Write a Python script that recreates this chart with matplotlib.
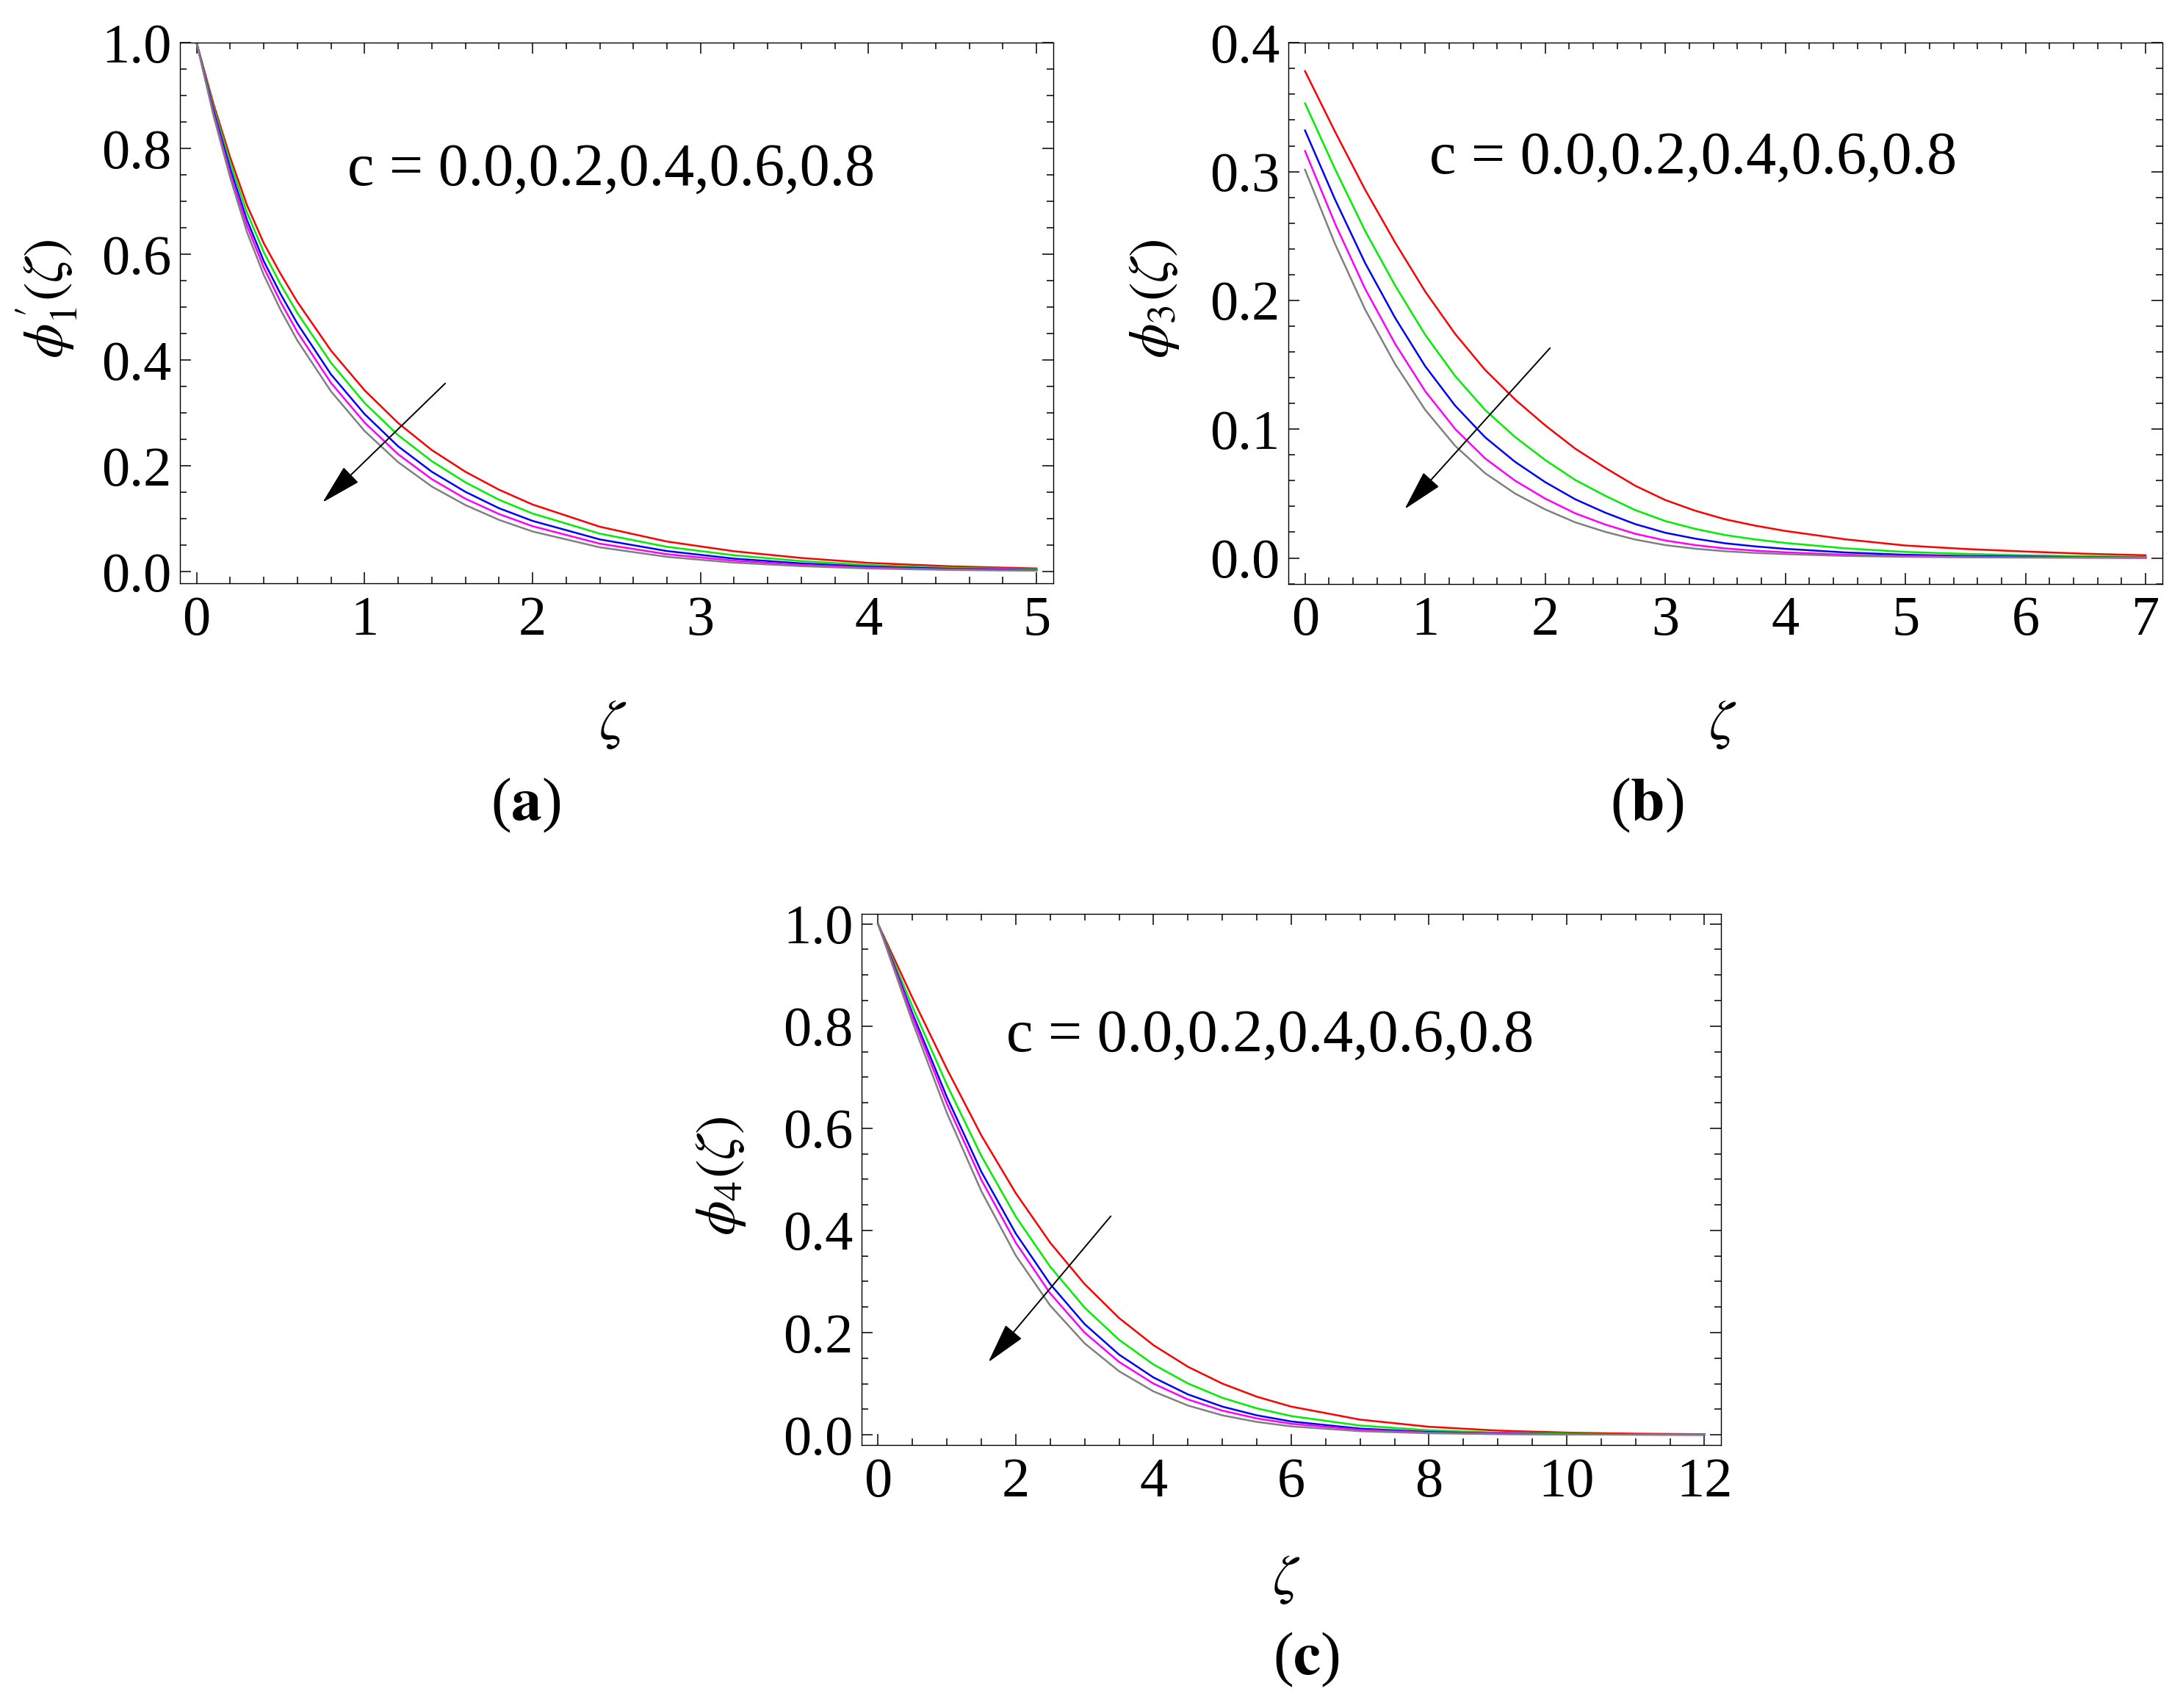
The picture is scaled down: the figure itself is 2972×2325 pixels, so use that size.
"""Profiles of phi1', phi3 and phi4 against zeta for several values of c (three panels)."""
import matplotlib
matplotlib.use('Agg')
import matplotlib.pyplot as plt
from matplotlib.ticker import MultipleLocator, FormatStrFormatter

plt.rcParams['font.family'] = ['Liberation Serif', 'DejaVu Serif']
plt.rcParams['mathtext.fontset'] = 'stix'

# ---- data ----
c_values = [0.0, 0.2, 0.4, 0.6, 0.8]
line_colors = ['#ff0000', '#00ee00', '#0000ff', '#ff00ff', '#808080']

# (a) phi1'(zeta)
zeta_a = [0, 0.1, 0.2, 0.3, 0.4, 0.5, 0.6, 0.8, 1.0, 1.2, 1.4, 1.6, 1.8, 2.0,
          2.4, 2.8, 3.2, 3.6, 4.0, 4.5, 5.0]
phi1_c00 = [1.0, 0.885, 0.783, 0.693, 0.621, 0.563, 0.510, 0.418, 0.343, 0.281, 0.230,
            0.189, 0.155, 0.127, 0.085, 0.057, 0.0386, 0.0259, 0.0166, 0.0100, 0.0061]
phi1_c02 = [1.0, 0.879, 0.773, 0.679, 0.604, 0.543, 0.489, 0.395, 0.319, 0.258, 0.209,
            0.169, 0.136, 0.110, 0.072, 0.047, 0.031, 0.020, 0.0125, 0.0073, 0.0043]
phi1_c04 = [1.0, 0.873, 0.762, 0.665, 0.587, 0.525, 0.469, 0.373, 0.298, 0.237, 0.189,
            0.151, 0.120, 0.096, 0.061, 0.039, 0.0246, 0.0157, 0.0095, 0.0054, 0.0030]
phi1_c06 = [1.0, 0.868, 0.753, 0.654, 0.575, 0.510, 0.453, 0.357, 0.282, 0.222, 0.175,
            0.138, 0.109, 0.086, 0.053, 0.033, 0.0207, 0.0128, 0.0076, 0.0042, 0.0023]
phi1_c08 = [1.0, 0.863, 0.745, 0.642, 0.561, 0.495, 0.437, 0.341, 0.266, 0.207, 0.161,
            0.126, 0.098, 0.076, 0.046, 0.028, 0.017, 0.0104, 0.0060, 0.0032, 0.0017]

# (b) phi3(zeta)
zeta_b = [0, 0.25, 0.5, 0.75, 1.0, 1.25, 1.5, 1.75, 2.0, 2.25, 2.5, 2.75, 3.0, 3.25,
          3.5, 3.75, 4.0, 4.5, 5.0, 5.5, 6.0, 6.5, 7.0]
phi3_c00 = [0.378, 0.331, 0.286, 0.245, 0.207, 0.174, 0.146, 0.123, 0.103, 0.0849, 0.070,
            0.0561, 0.045, 0.0367, 0.030, 0.0251, 0.021, 0.0145, 0.0097, 0.0070, 0.0050,
            0.0033, 0.0021]
phi3_c02 = [0.353, 0.302, 0.254, 0.2116, 0.1734, 0.1413, 0.1149, 0.0939, 0.0761, 0.0606,
            0.0483, 0.0372, 0.0287, 0.0226, 0.0178, 0.0144, 0.0117, 0.0075, 0.0047, 0.0032,
            0.0021, 0.0013, 0.0008]
phi3_c04 = [0.332, 0.2783, 0.2291, 0.1865, 0.1490, 0.1183, 0.0937, 0.0746, 0.0589, 0.0456,
            0.0352, 0.0263, 0.0196, 0.0150, 0.0114, 0.0090, 0.0071, 0.0043, 0.0025, 0.0016,
            0.0011, 0.0006, 0.0003]
phi3_c06 = [0.316, 0.2596, 0.2091, 0.1663, 0.1296, 0.1002, 0.0773, 0.0600, 0.0461, 0.0347,
            0.0260, 0.0188, 0.0136, 0.0100, 0.0074, 0.0057, 0.0044, 0.0025, 0.0014, 0.0009,
            0.0005, 0.0003, 0.0001]
phi3_c08 = [0.3015, 0.2438, 0.1930, 0.1506, 0.1151, 0.0871, 0.0658, 0.0500, 0.0377, 0.0277,
            0.0203, 0.0143, 0.0100, 0.0072, 0.0052, 0.0039, 0.0030, 0.0016, 0.0009, 0.0005,
            0.0003, 0.0002, 0.0001]

# (c) phi4(zeta)
zeta_c = [0, 0.5, 1.0, 1.5, 2.0, 2.5, 3.0, 3.5, 4.0, 4.5, 5.0, 5.5, 6.0, 7.0, 8.0,
          9.0, 10.0, 11.0, 12.0]
phi4_c00 = [1.0, 0.855, 0.716, 0.586, 0.473, 0.376, 0.295, 0.2286, 0.1754, 0.1332, 0.1002,
            0.0746, 0.0552, 0.0297, 0.0157, 0.0082, 0.0043, 0.0022, 0.0011]
phi4_c02 = [1.0, 0.838, 0.685, 0.546, 0.427, 0.329, 0.249, 0.186, 0.1376, 0.1005, 0.0724,
            0.0518, 0.0367, 0.0181, 0.0088, 0.0043, 0.0021, 0.0010, 0.0005]
phi4_c04 = [1.0, 0.825, 0.661, 0.515, 0.394, 0.295, 0.2167, 0.157, 0.1122, 0.0791, 0.0552,
            0.0381, 0.0261, 0.0121, 0.0055, 0.0025, 0.0011, 0.0005, 0.0002]
phi4_c06 = [1.0, 0.818, 0.648, 0.499, 0.376, 0.2767, 0.200, 0.1427, 0.1002, 0.0692, 0.0473,
            0.0321, 0.0216, 0.0096, 0.0043, 0.0019, 0.0008, 0.0003, 0.0001]
phi4_c08 = [1.0, 0.808, 0.630, 0.477, 0.351, 0.253, 0.179, 0.1244, 0.0849, 0.0573, 0.0381,
            0.0252, 0.0165, 0.0070, 0.0030, 0.0012, 0.0005, 0.0002, 0.0001]

# arrows (tail, tip) in data coords
arrow_a = ((1.48, 0.356), (0.75, 0.131))
arrow_b = ((2.04, 0.163), (0.83, 0.038))
arrow_c = ((3.38, 0.428), (1.60, 0.142))

c_text = 'c = ' + ','.join(f'{c:.1f}' for c in c_values)

W, H = 2972, 2325
fig = plt.figure(figsize=(W / 100, H / 100), dpi=100)

FS = 55


def fx(px):
    return px / W


def fy(py):
    return 1 - py / H


def style_axes(ax, xmaj, xmin, ymaj, ymin):
    ax.xaxis.set_major_locator(MultipleLocator(xmaj))
    ax.xaxis.set_minor_locator(MultipleLocator(xmin))
    ax.yaxis.set_major_locator(MultipleLocator(ymaj))
    ax.yaxis.set_minor_locator(MultipleLocator(ymin))
    ax.yaxis.set_major_formatter(FormatStrFormatter('%.1f'))
    ax.xaxis.set_major_formatter(FormatStrFormatter('%d'))
    ax.tick_params(which='both', direction='in', top=True, right=True,
                   labelsize=FS, width=1.1, color='black')
    ax.tick_params(which='major', length=11)
    ax.tick_params(which='minor', length=6.8)
    ax.tick_params(axis='x', which='major', pad=12)
    ax.tick_params(axis='y', which='major', pad=8)
    for sp in ax.spines.values():
        sp.set_linewidth(1.0)


def draw_arrow(ax, arrow):
    tail, tip = arrow
    ax.annotate('', xy=tip, xytext=tail,
                arrowprops=dict(arrowstyle='-|>,head_length=0.88,head_width=0.23',
                                mutation_scale=40, lw=1.4, color='black',
                                shrinkA=0, shrinkB=0))


panels = [
    dict(rect=[0.08237, 0.65849, 0.40013, 0.31643], x=zeta_a,
         ys=[phi1_c00, phi1_c02, phi1_c04, phi1_c06, phi1_c08],
         xlim=(-0.1, 5.1), ylim=(-0.022, 1.0), ticks=(1, 0.2, 0.2, 0.05),
         text=(0.90, 0.731), arrow=arrow_a),
    dict(rect=[0.59011, 0.65823, 0.40047, 0.31669], x=zeta_b,
         ys=[phi3_c00, phi3_c02, phi3_c04, phi3_c06, phi3_c08],
         xlim=(-0.14, 7.14), ylim=(-0.02, 0.4), ticks=(1, 0.2, 0.1, 0.02),
         text=(1.035, 0.299), arrow=arrow_b),
    dict(rect=[0.39465, 0.15398, 0.39367, 0.31105], x=zeta_c,
         ys=[phi4_c00, phi4_c02, phi4_c04, phi4_c06, phi4_c08],
         xlim=(-0.24, 12.24), ylim=(-0.02, 1.02), ticks=(2, 0.5, 0.2, 0.05),
         text=(1.86, 0.7506), arrow=arrow_c),
]

for p in panels:
    ax = fig.add_axes(p['rect'])
    for y, col in zip(p['ys'], line_colors):
        ax.plot(p['x'], y, color=col, lw=1.8, solid_joinstyle='round')
    ax.set_xlim(*p['xlim'])
    ax.set_ylim(*p['ylim'])
    style_axes(ax, *p['ticks'])
    ax.text(p['text'][0], p['text'][1], c_text, fontsize=59,
            ha='left', va='baseline')
    draw_arrow(ax, p['arrow'])

# axis labels and panel captions
ylabels = [r'$\phi_1^{\prime}(\zeta)$', r'$\phi_3(\zeta)$', r'$\phi_4(\zeta)$']
ylabel_pos = [(64, 407), (1571, 407), (982, 1601)]
xlabel_pos = [(834, 986), (2345, 986), (1751, 2151)]
caption_pos = [(716, 1096), (2242, 1096), (1778, 2259)]
captions = ['a', 'b', 'c']

for lab, (px, py) in zip(ylabels, ylabel_pos):
    fig.text(fx(px), fy(py), lab, fontsize=FS, rotation=90, ha='center', va='center')
for px, py in xlabel_pos:
    fig.text(fx(px), fy(py), r'$\zeta$', fontsize=FS, ha='center', va='center')
for cap, (px, py) in zip(captions, caption_pos):
    fig.text(fx(px), fy(py), '(' + r'$\mathbf{' + cap + '}$' + ')', fontsize=60,
             ha='center', va='center')

fig.savefig('out.png', dpi=100)
